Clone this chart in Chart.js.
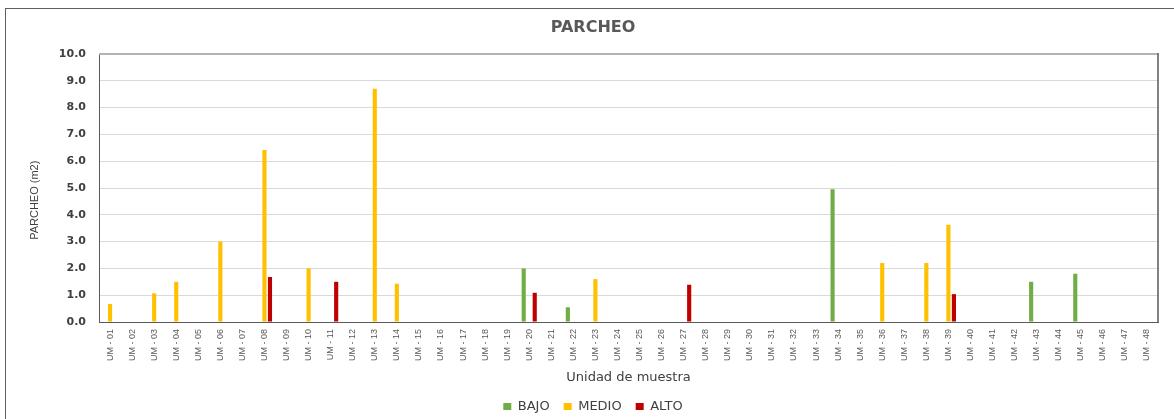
<!DOCTYPE html>
<html>
<head>
<meta charset="utf-8">
<script src="https://cdn.jsdelivr.net/npm/chart.js@4.4.1/dist/chart.umd.min.js"></script>
<style>
  html, body { margin: 0; padding: 0; background: #ffffff; }
  canvas { display: block; }
</style>
</head>
<body>
<canvas id="chart" width="1174" height="419"></canvas>
<script>
// Sampling units along the x axis
const categories = [
  'UM - 01','UM - 02','UM - 03','UM - 04','UM - 05','UM - 06','UM - 07','UM - 08','UM - 09','UM - 10','UM - 11','UM - 12',
  'UM - 13','UM - 14','UM - 15','UM - 16','UM - 17','UM - 18','UM - 19','UM - 20','UM - 21','UM - 22','UM - 23','UM - 24',
  'UM - 25','UM - 26','UM - 27','UM - 28','UM - 29','UM - 30','UM - 31','UM - 32','UM - 33','UM - 34','UM - 35','UM - 36',
  'UM - 37','UM - 38','UM - 39','UM - 40','UM - 41','UM - 42','UM - 43','UM - 44','UM - 45','UM - 46','UM - 47','UM - 48'
];

// Patched area (m2) by severity level; null = no patching recorded
const bajo = [
  null, null, null, null, null, null, null, null, null, null, null, null,
  null, null, null, null, null, null, null, 2.0, null, 0.55, null, null,
  null, null, null, null, null, null, null, null, null, 4.95, null, null,
  null, null, null, null, null, null, 1.5, null, 1.8, null, null, null
];
const medio = [
  0.67, null, 1.07, 1.5, null, 3.0, null, 6.42, null, 2.0, null, null,
  8.7, 1.43, null, null, null, null, null, null, null, null, 1.6, null,
  null, null, null, null, null, null, null, null, null, null, null, 2.2,
  null, 2.2, 3.63, null, null, null, null, null, null, null, null, null
];
const alto = [
  null, null, null, null, null, null, null, 1.68, null, null, 1.5, null,
  null, null, null, null, null, null, null, 1.09, null, null, null, null,
  null, null, 1.39, null, null, null, null, null, null, null, null, null,
  null, null, 1.04, null, null, null, null, null, null, null, null, null
];

// Y axis ticks
const yTicks = [0, 1, 2, 3, 4, 5, 6, 7, 8, 9, 10];

// Plot-area frame in canvas pixels
const PLOT = { left: 99, right: 1158, top: 54, bottom: 322 };
const PAD = { left: 28, right: 16, top: 0, bottom: -4 };

// White background, outer chart frame, and the top/right edges of the plot box
const framePlugin = {
  id: 'frame',
  beforeDraw(chart) {
    const ctx = chart.ctx;
    ctx.save();
    ctx.fillStyle = '#ffffff';
    ctx.fillRect(0, 0, chart.width, chart.height);
    ctx.strokeStyle = '#5f5f5f';
    ctx.lineWidth = 1;
    ctx.strokeRect(5.5, 8.5, chart.width + 20, chart.height + 20);
    ctx.restore();
  },
  afterDatasetsDraw(chart) {
    const { ctx, chartArea: a } = chart;
    ctx.save();
    ctx.strokeStyle = '#b4b4b4';
    ctx.lineWidth = 2;
    ctx.beginPath();
    ctx.moveTo(a.left, a.top);
    ctx.lineTo(a.right, a.top);
    ctx.stroke();
    ctx.strokeStyle = '#595959';
    ctx.lineWidth = 1.5;
    ctx.beginPath();
    ctx.moveTo(a.right, a.top - 1);
    ctx.lineTo(a.right, a.bottom);
    ctx.stroke();
    ctx.restore();
  }
};

new Chart(document.getElementById('chart'), {
  type: 'bar',
  data: {
    labels: categories,
    datasets: [
      { label: 'BAJO',  data: bajo,  backgroundColor: '#70AD47', borderWidth: 0 },
      { label: 'MEDIO', data: medio, backgroundColor: '#FFC000', borderWidth: 0 },
      { label: 'ALTO',  data: alto,  backgroundColor: '#C00000', borderWidth: 0 }
    ]
  },
  options: {
    responsive: false,
    animation: false,
    devicePixelRatio: 1,
    layout: { padding: PAD },
    datasets: {
      bar: { categoryPercentage: 0.75, barPercentage: 0.75 }
    },
    plugins: {
      title: {
        display: true,
        text: 'PARCHEO',
        color: '#595959',
        font: { family: 'DejaVu Sans', size: 16, weight: 'bold', lineHeight: 1.25 },
        padding: { top: 18, bottom: PLOT.top - 38 }
      },
      legend: {
        position: 'bottom',
        labels: {
          color: '#404040',
          font: { family: 'DejaVu Sans', size: 13 },
          boxWidth: 8,
          boxHeight: 7,
          padding: 14
        }
      },
      tooltip: { enabled: false }
    },
    scales: {
      x: {
        type: 'category',
        position: 'bottom',
        offset: true,
        grid: { display: false, drawTicks: false },
        border: { display: true, color: '#595959', width: 1 },
        ticks: {
          autoSkip: false,
          maxRotation: 90,
          minRotation: 90,
          padding: 7,
          color: '#595959',
          font: { family: 'Liberation Sans', size: 9 }
        },
        title: {
          display: true,
          text: 'Unidad de muestra',
          color: '#404040',
          font: { family: 'DejaVu Sans', size: 13 },
          padding: { top: 0, bottom: 1 }
        },
        afterFit(s) {
          s.height = s.chart.height - PAD.bottom - PLOT.bottom - s.chart.legend.height;
        }
      },
      y: {
        type: 'linear',
        position: 'left',
        min: 0,
        max: 10,
        afterBuildTicks(s) {
          s.ticks = yTicks.map(v => ({ value: v }));
        },
        grid: { color: '#d9d9d9', lineWidth: 1, drawTicks: false },
        border: { display: true, color: '#595959', width: 1 },
        ticks: {
          padding: 13,
          color: '#404040',
          font: { family: 'DejaVu Sans', size: 11, weight: 'bold' },
          callback: v => Number(v).toFixed(1)
        },
        title: {
          display: true,
          text: 'PARCHEO (m2)        ',
          color: '#404040',
          font: { family: 'Liberation Sans', size: 11 },
          padding: { top: 0, bottom: 0 }
        },
        afterFit(s) {
          s.width = PLOT.left - PAD.left;
        }
      }
    }
  },
  plugins: [framePlugin]
});
</script>
</body>
</html>
